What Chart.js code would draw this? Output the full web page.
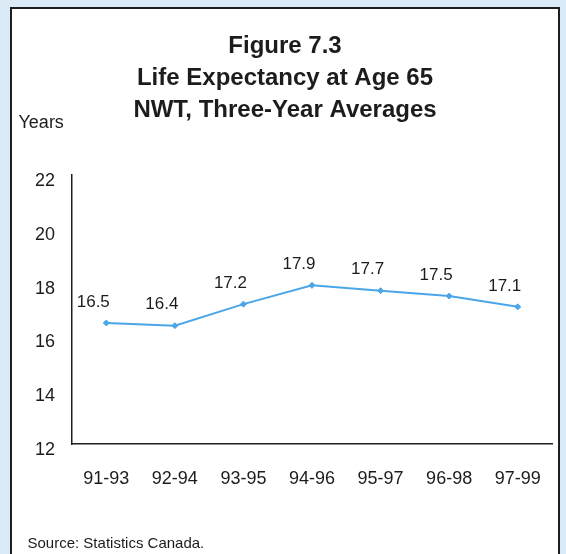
<!DOCTYPE html>
<html>
<head>
<meta charset="utf-8">
<script src="https://cdn.jsdelivr.net/npm/chart.js@4"></script>
<style>
  html, body { margin: 0; padding: 0; width: 566px; height: 554px; overflow: hidden; background: #dbeaf7; }
  #frame { position: absolute; left: 10px; top: 7px; width: 550px; height: 600px; box-sizing: border-box;
           border: 2px solid #1e1e1e; background: #ffffff; }
  #c { position: absolute; left: 0; top: 0; }
</style>
</head>
<body>
<div id="frame"></div>
<canvas id="c" width="566" height="554"></canvas>
<script>
const titleLines = ['Figure 7.3', 'Life Expectancy at Age 65', 'NWT, Three-Year Averages'];
const yAxisLabel = 'Years';
const sourceNote = 'Source: Statistics Canada.';
const categories = ['91-93', '92-94', '93-95', '94-96', '95-97', '96-98', '97-99'];
const lifeExpectancy = [16.5, 16.4, 17.2, 17.9, 17.7, 17.5, 17.1];
const yTicks = [12, 14, 16, 18, 20, 22];

const FONT = '"Liberation Sans", Arial, Helvetica, sans-serif';
const TEXT = '#1c1c1c';
const LINE = '#4aa6e8';

const extrasPlugin = {
  id: 'extras',
  afterDatasetsDraw(chart) {
    const ctx = chart.ctx;
    ctx.save();
    ctx.fillStyle = TEXT;
    // data labels
    ctx.font = '17px ' + FONT;
    ctx.textAlign = 'center';
    ctx.textBaseline = 'middle';
    const meta = chart.getDatasetMeta(0);
    meta.data.forEach((pt, i) => {
      ctx.fillText(lifeExpectancy[i].toFixed(1), pt.x - 13, pt.y - 21);
    });
    // axis unit label
    ctx.textAlign = 'left';
    ctx.font = '18px ' + FONT;
    ctx.fillText(yAxisLabel, 18.5, 123);
    // source
    ctx.font = '15px ' + FONT;
    ctx.fillText(sourceNote, 27.5, 544);
    ctx.restore();
  }
};

new Chart(document.getElementById('c'), {
  type: 'line',
  data: {
    labels: categories,
    datasets: [{
      data: lifeExpectancy,
      borderColor: LINE,
      backgroundColor: LINE,
      borderWidth: 2,
      pointStyle: 'rectRot',
      pointRadius: 3,
      pointBorderWidth: 1,
      tension: 0,
      fill: false
    }]
  },
  options: {
    responsive: false,
    animation: false,
    devicePixelRatio: 1,
    layout: { padding: { left: 18, right: 14, top: 0, bottom: 0 } },
    plugins: {
      legend: { display: false },
      tooltip: { enabled: false },
      title: {
        display: true,
        text: titleLines,
        color: TEXT,
        font: { family: FONT, size: 24, weight: 'bold', lineHeight: 1.32 },
        padding: { top: 31, bottom: 49 }
      }
    },
    scales: {
      x: {
        offset: true,
        grid: { display: false, drawTicks: false },
        border: { display: true, color: '#1e1e1e', width: 1.5 },
        ticks: { color: TEXT, font: { family: FONT, size: 18 }, padding: 24, maxRotation: 0, autoSkip: false },
        afterFit(scale) { scale.height = 110; }
      },
      y: {
        min: 12,
        max: 22,
        grid: { display: false, drawTicks: false },
        border: { display: true, color: '#1e1e1e', width: 1.5 },
        afterBuildTicks(scale) { scale.ticks = yTicks.map(v => ({ value: v })); },
        ticks: { color: TEXT, font: { family: FONT, size: 18 }, padding: 17, labelOffset: 6 },
        afterFit(scale) { scale.width = 54; }
      }
    }
  },
  plugins: [extrasPlugin]
});
</script>
</body>
</html>
